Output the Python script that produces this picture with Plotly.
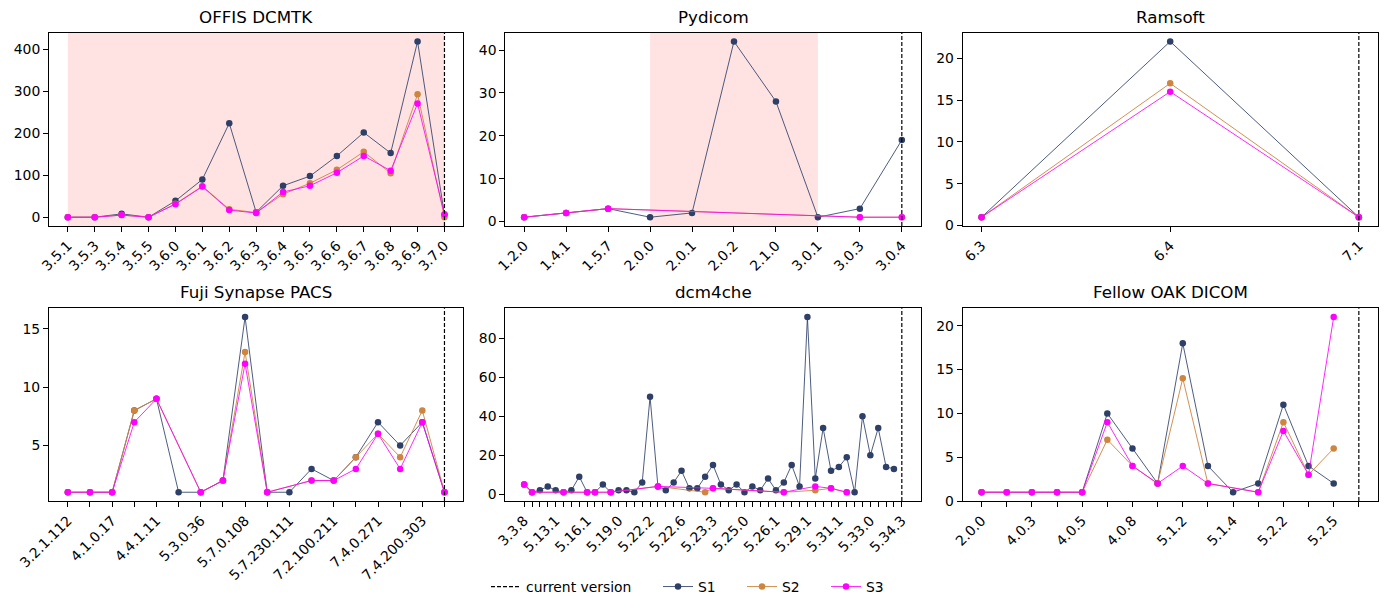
import plotly.graph_objects as go

# ---------------- data ----------------
offis_versions = ["3.5.1", "3.5.3", "3.5.4", "3.5.5", "3.6.0", "3.6.1", "3.6.2", "3.6.3",
                  "3.6.4", "3.6.5", "3.6.6", "3.6.7", "3.6.8", "3.6.9", "3.7.0"]
offis_s1 = [0, 0, 8, 0, 39, 90, 224, 12, 75, 98, 146, 202, 153, 419, 5]
offis_s2 = [0, 0, 5, 0, 32, 74, 19, 11, 55, 81, 113, 156, 105, 293, 0]
offis_s3 = [0, 0, 5, 0, 31, 73, 17, 10, 60, 75, 106, 146, 111, 271, 7]
offis_current = "3.7.0"
offis_span = ("3.5.1", "3.7.0")

pyd_versions = ["1.2.0", "1.4.1", "1.5.7", "2.0.0", "2.0.1", "2.0.2", "2.1.0", "3.0.1", "3.0.3", "3.0.4"]
pyd_s1 = [1, 2, 3, 1, 2, 42, 28, 1, 3, 19]
pyd_s2 = [1, 2, 3, None, None, None, None, None, 1, 1]
pyd_s3 = [1, 2, 3, None, None, None, None, None, 1, 1]
pyd_current = "3.0.4"
pyd_span = ("2.0.0", "3.0.1")

ram_versions = ["6.3", "6.4", "7.1"]
ram_s1 = [1, 22, 1]
ram_s2 = [1, 17, 1]
ram_s3 = [1, 16, 1]
ram_current = "7.1"

# Fuji: 18 versions, only every second label readable
fuji_labels = ["3.2.1.112", "", "4.1.0.17", "", "4.4.1.11", "", "5.3.0.36", "", "5.7.0.108", "",
               "5.7.230.111", "", "7.2.100.211", "", "7.4.0.271", "", "7.4.200.303", ""]
fuji_s1 = [1, 1, 1, 8, 9, 1, 1, 2, 16, 1, 1, 3, 2, 4, 7, 5, 7, 1]
fuji_s2 = [1, 1, 1, 8, 9, None, 1, 2, 13, 1, None, 2, 2, 4, 6, 4, 8, 1]
fuji_s3 = [1, 1, 1, 7, 9, None, 1, 2, 12, 1, None, 2, 2, 3, 6, 3, 7, 1]
fuji_current_idx = 17

# dcm4che: 49 versions, every fourth label readable
dcm_labels = ["3.3.8", "", "", "", "5.13.1", "", "", "", "5.16.1", "", "", "", "5.19.0", "", "", "",
              "5.22.2", "", "", "", "5.22.6", "", "", "", "5.23.3", "", "", "", "5.25.0", "", "", "",
              "5.26.1", "", "", "", "5.29.1", "", "", "", "5.31.1", "", "", "", "5.33.0", "", "", "",
              "5.34.3"]
N = None
dcm_s1 = [5, 1, 2, 4, 2, 1, 2, 9, 1, 1, 5, 1, 2, 2, 1, 6, 50, 4, 2, 6, 12, 3, 3, 9, 15,
          5, 2, 5, 1, 4, 2, 8, 2, 6, 15, 4, 91, 8, 34, 12, 14, 19, 1, 40, 20, 34, 14, 13, N]
dcm_s2 = [5, 1, N, N, N, 1, N, N, 1, 1, N, 1, N, N, N, N, N, 4, N, N, N, N, N, 1, 3,
          N, N, N, N, N, N, N, N, 1, N, N, N, 2, N, 3, N, 1, N, N, N, N, N, N, N]
dcm_s3 = [5, 1, N, N, N, 1, N, N, 1, 1, N, 1, N, N, N, N, N, 4, N, N, N, N, N, N, 3,
          N, N, N, N, N, N, N, N, 1, N, N, N, 4, N, 3, N, 1, N, N, N, N, N, N, N]
dcm_current_idx = 48

# Fellow OAK DICOM: 16 versions, every second label readable
oak_labels = ["2.0.0", "", "4.0.3", "", "4.0.5", "", "4.0.8", "", "5.1.2", "", "5.1.4", "",
              "5.2.2", "", "5.2.5", ""]
oak_s1 = [1, 1, 1, 1, 1, 10, 6, 2, 18, 4, 1, 2, 11, 4, 2, N]
oak_s2 = [1, 1, 1, 1, 1, 7, 4, 2, 14, 2, N, 1, 9, 3, 6, N]
oak_s3 = [1, 1, 1, 1, 1, 9, 4, 2, 4, 2, N, 1, 8, 3, 21, N]
oak_current_idx = 15

series_names = ["S1", "S2", "S3"]
# ---------------- style ----------------
MARKER_COLORS = ["#2e3f68", "#cd853f", "#ff00ff"]
LINE_COLORS = ["rgba(46,63,104,0.85)", "rgba(205,133,63,0.9)", "rgba(255,0,255,0.85)"]
FONT = "DejaVu Sans"
W, H = 1387, 610

xdoms = [(49 / W, 463.3 / W), (505.3 / W, 920.7 / W), (962.7 / W, 1377.7 / W)]
ydoms = [(1 - 226 / H, 1 - 32.7 / H), (1 - 501 / H, 1 - 308.3 / H)]

fig = go.Figure()
layout = dict(width=W, height=H, margin=dict(l=0, r=0, t=0, b=0),
              paper_bgcolor="white", plot_bgcolor="white",
              font=dict(family=FONT, size=13.9, color="black"), showlegend=True)
shapes = []
annotations = []


def pad_range(vals, frac=0.05):
    v = [a for a in vals if a is not None]
    lo, hi = min(v), max(v)
    d = (hi - lo) * frac
    return [lo - d, hi + d]


def panel(k, title, labels, s_list, cur_idx, span=None, dtick=None):
    row, col = divmod(k, 3)
    ax = "" if k == 0 else str(k + 1)
    n = len(labels)
    xs = list(range(n))
    for i, s in enumerate(s_list):
        fig.add_trace(go.Scatter(
            x=xs[:len(s)], y=s, mode="lines+markers", connectgaps=True,
            name=series_names[i], legend=["legend2", "legend3", "legend4"][i],
            showlegend=(k == 0),
            line=dict(color=LINE_COLORS[i], width=1),
            marker=dict(color=MARKER_COLORS[i], size=6.5, line=dict(width=0)),
            xaxis="x" + ax, yaxis="y" + ax))
    allv = [v for s in s_list for v in s if v is not None]
    yr = pad_range(allv)
    xr = [-(n - 1) * 0.05, (n - 1) * 1.05]
    axis_common = dict(showline=True, mirror=True, linecolor="black", linewidth=1,
                       ticks="outside", ticklen=5, tickwidth=1, tickcolor="black",
                       showgrid=False, zeroline=False, automargin=False,
                       tickfont=dict(family=FONT, size=13.9, color="black"))
    layout["xaxis" + ax] = dict(axis_common, domain=xdoms[col], range=xr,
                                tickmode="array", tickvals=xs, ticktext=labels,
                                tickangle=-45, anchor="y" + ax)
    layout["yaxis" + ax] = dict(axis_common, domain=ydoms[row], range=yr,
                                dtick=dtick, tick0=0, anchor="x" + ax)
    shapes.append(dict(type="line", xref="x" + ax, yref="y" + ax + " domain",
                       x0=cur_idx, x1=cur_idx, y0=0, y1=1,
                       line=dict(color="black", width=1.2, dash="4px,2px")))
    if span is not None:
        shapes.append(dict(type="rect", xref="x" + ax, yref="y" + ax + " domain",
                           x0=span[0], x1=span[1], y0=0, y1=1, layer="below",
                           fillcolor="rgba(255,0,0,0.11)", line=dict(width=0)))
    annotations.append(dict(text=title, xref="paper", yref="paper",
                            x=(xdoms[col][0] + xdoms[col][1]) / 2, y=ydoms[row][1],
                            xanchor="center", yanchor="bottom", yshift=4, showarrow=False,
                            font=dict(family=FONT, size=16.7, color="black")))


panel(0, "OFFIS DCMTK", offis_versions, [offis_s1, offis_s2, offis_s3],
      offis_versions.index(offis_current),
      span=(offis_versions.index(offis_span[0]), offis_versions.index(offis_span[1])), dtick=100)
panel(1, "Pydicom", pyd_versions, [pyd_s1, pyd_s2, pyd_s3], pyd_versions.index(pyd_current),
      span=(pyd_versions.index(pyd_span[0]), pyd_versions.index(pyd_span[1])), dtick=10)
panel(2, "Ramsoft", ram_versions, [ram_s1, ram_s2, ram_s3], ram_versions.index(ram_current), dtick=5)
panel(3, "Fuji Synapse PACS", fuji_labels, [fuji_s1, fuji_s2, fuji_s3], fuji_current_idx, dtick=5)
panel(4, "dcm4che", dcm_labels, [dcm_s1, dcm_s2, dcm_s3], dcm_current_idx, dtick=20)
panel(5, "Fellow OAK DICOM", oak_labels, [oak_s1, oak_s2, oak_s3], oak_current_idx, dtick=5)

# legend entry for the dashed current-version line
fig.add_trace(go.Scatter(x=[None], y=[None], mode="lines", name="current version",
                         legend="legend", line=dict(color="black", width=1.2, dash="4px,2px"),
                         xaxis="x", yaxis="y"))

leg_y = (H - 587) / H
leg_common = dict(orientation="h", yanchor="middle", y=leg_y, xanchor="left",
                  bgcolor="rgba(0,0,0,0)", font=dict(family=FONT, size=13.9, color="black"),
                  itemwidth=30)
layout["legend"] = dict(leg_common, x=(486) / W)
layout["legend2"] = dict(leg_common, x=(658) / W)
layout["legend3"] = dict(leg_common, x=(742) / W)
layout["legend4"] = dict(leg_common, x=(826) / W)
layout["shapes"] = shapes
layout["annotations"] = annotations
fig.update_layout(**layout)
fig.write_html("out.html")
